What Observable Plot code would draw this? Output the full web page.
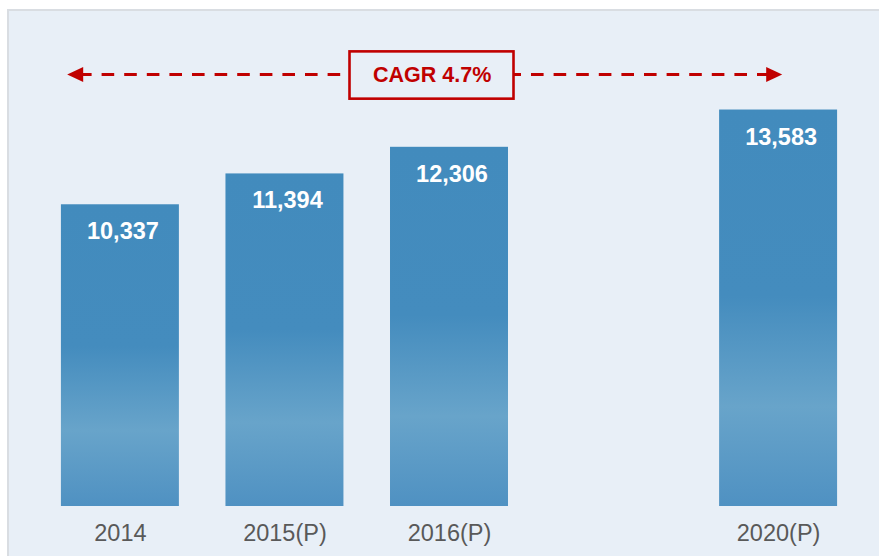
<!DOCTYPE html>
<html>
<head>
<meta charset="utf-8">
<script src="https://cdn.jsdelivr.net/npm/d3@7"></script>
<script src="https://cdn.jsdelivr.net/npm/@observablehq/plot@0.6"></script>
<style>
  html, body { margin: 0; padding: 0; background: #ffffff; }
  #wrap { position: relative; width: 879px; height: 556px; overflow: hidden; background: #ffffff; }
  #panel { position: absolute; left: 7px; top: 9px; width: 900px; height: 600px;
           background: #e8eff7; border: 2px solid #d9dde2; box-sizing: border-box; }
  #chart { position: absolute; left: 0; top: 0; }
</style>
</head>
<body>
<div id="wrap"><div id="panel"></div><div id="chart"></div></div>
<script>
// ---- data ----
const categories = ["2014", "2015(P)", "2016(P)", "", "2020(P)"]; // "" is an empty slot
const barYears = ["2014", "2015(P)", "2016(P)", "2020(P)"];
const barValues = [10337, 11394, 12306, 13583];
const cagrLabel = "CAGR 4.7%";

const data = barYears.map((year, i) => ({year, value: barValues[i]}));

// annotation layout (in y-scale units)
const arrowLevel = 14800;
const boxLow = 13955, boxHigh = 15575;

const red = "#c00000";
const headLeft = {draw(ctx, size) { const r = Math.sqrt(size / Math.PI);
  ctx.moveTo(-r, 0); ctx.lineTo(r, -r * 0.95); ctx.lineTo(r, r * 0.95); ctx.closePath(); }};
const headRight = {draw(ctx, size) { const r = Math.sqrt(size / Math.PI);
  ctx.moveTo(r, 0); ctx.lineTo(-r, -r * 0.95); ctx.lineTo(-r, r * 0.95); ctx.closePath(); }};

const chart = Plot.plot({
  width: 879,
  height: 556,
  marginLeft: 28,
  marginRight: 9,
  marginTop: 20,
  marginBottom: 50,
  style: {background: "transparent", fontFamily: "'Liberation Sans', Arial, sans-serif", fontSize: "23px", color: "#595959"},
  x: {domain: categories, paddingInner: 0.283, paddingOuter: 0.2, align: 0.5, round: false, label: null},
  y: {domain: [0, 16650], axis: null, label: null},
  marks: [
    Plot.barY(data, {x: "year", y: "value", fill: "url(#barGrad)"}),
    Plot.text(data, {x: "year", y: "value", text: d => d3.format(",")(d.value),
      dy: 27, dx: 2.5, fill: "white", fontWeight: "bold", fontSize: 23.5}),
    Plot.axisX({tickSize: 0, tickPadding: 18, fontSize: 23.5, fill: "#595959", label: null,
      tickFormat: d => d}),
    // CAGR arrow
    Plot.ruleY([arrowLevel], {stroke: red, strokeWidth: 3.2, strokeDasharray: "12.6,10",
      insetLeft: 51, insetRight: 102}),
    Plot.dot([arrowLevel], {y: d => d, frameAnchor: "left", dx: 46.7, symbol: headLeft, r: 8, fill: red, stroke: "none"}),
    Plot.dot([arrowLevel], {y: d => d, frameAnchor: "right", dx: -96.3, symbol: headRight, r: 8, fill: red, stroke: "none"}),
    Plot.rect([cagrLabel], {y1: () => boxLow, y2: () => boxHigh, insetLeft: 321.5, insetRight: 356.5,
      fill: "#e8eff7", stroke: red, strokeWidth: 2.6}),
    Plot.text([cagrLabel], {y: () => arrowLevel, text: d => d, dx: -17.3, dy: 1,
      fill: red, fontWeight: "bold", fontSize: 21.5})
  ]
});

// gradient definition for the bars
const svg = d3.select(chart);
const defs = svg.insert("defs", ":first-child");
const grad = defs.append("linearGradient").attr("id", "barGrad")
  .attr("x1", 0).attr("y1", 0).attr("x2", 0).attr("y2", 1);
[[0, "#428bbd"], [0.47, "#448cbe"], [0.75, "#68a4ca"], [1, "#4f91c2"]]
  .forEach(([o, c]) => grad.append("stop").attr("offset", o).attr("stop-color", c));

document.getElementById("chart").appendChild(chart);
</script>
</body>
</html>
